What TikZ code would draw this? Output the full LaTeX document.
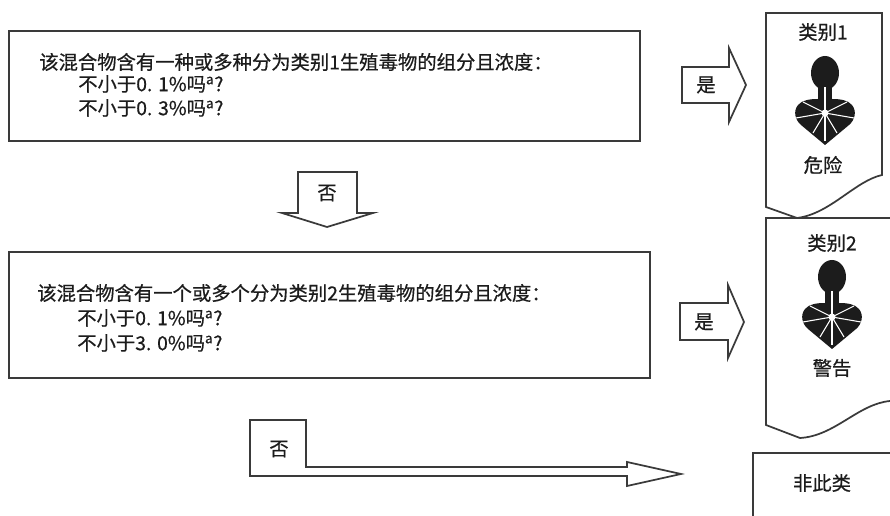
\documentclass[tikz,border=0pt]{standalone}
\usepackage{fontspec}
\newfontfamily\cjk[FakeBold=0.6]{Noto Sans CJK SC}
\definecolor{inkgray}{RGB}{58,58,58}
\definecolor{inkdark}{RGB}{28,28,28}

\begin{document}
\begin{tikzpicture}[x=0.75pt,y=0.75pt,yscale=-1,xscale=1,
  box/.style={draw=inkgray, line width=1.3pt, line join=miter},
  txt/.style={inner sep=0.75pt, text=inkdark, font=\cjk\fontsize{14.5}{17}\selectfont},
  hazard/.pic={
    \fill[inkdark] (0,-27) ellipse [x radius=14, y radius=17];
    \fill[inkdark] (-7,-16) rectangle (7,2);
    \fill[inkdark] (-7,-1) .. controls (-15,-1) and (-23,0) .. (-27,5) .. controls (-32,11) and (-30,20) .. (-24,25) -- (0,45) -- (24,25) .. controls (30,20) and (32,11) .. (27,5) .. controls (23,0) and (15,-1) .. (7,-1) -- cycle;
    \foreach \p in {(0,-13),(-22,2),(-29,18),(-12,33),(0,41),(12,33),(29,18),(22,2)}
      \draw[white, line width=0.8pt] (0,13) -- \p;
    \fill[white] (0,13) circle (3.5);
  }]
\useasboundingbox (0,0) rectangle (890,516);

%Shape: Rectangle [id:question1]
\draw [box] (9,31) -- (640,31) -- (640,141) -- (9,141) -- cycle ;
%Shape: Rectangle [id:question2]
\draw [box] (9,252) -- (650,252) -- (650,378) -- (9,378) -- cycle ;

%Shape: Block arrow [id:yes1]
\draw [box] (682,67) -- (729,67) -- (729,48) -- (746,85) -- (729,122) -- (729,103) -- (682,103) -- cycle ;
%Shape: Block arrow [id:yes2]
\draw [box] (680,303) -- (728,303) -- (728,285) -- (744,322) -- (728,358) -- (728,340) -- (680,340) -- cycle ;
%Shape: Block arrow [id:no1]
\draw [box] (298,172) -- (357,172) -- (357,213) -- (373,213) -- (327,227) -- (282,213) -- (298,213) -- cycle ;
%Shape: Block arrow [id:no2]
\draw [box] (250,420) -- (306,420) -- (306,467) -- (627,467) -- (627,462) -- (681,474) -- (627,486) -- (627,476) -- (250,476) -- cycle ;

%Shape: Document [id:cat1]
\draw [box] (766,13) -- (882,13) -- (882,175) .. controls (855,181) and (830,214) .. (797,218) -- (766,207) -- cycle ;
%Shape: Document [id:cat2]
\draw [box] (890,218) -- (766,218) -- (766,425) -- (800,438) .. controls (835,436) and (858,404) .. (890,401) ;
%Shape: Rectangle [id:none]
\draw [box] (890,453) -- (753,453) -- (753,516) ;

%Pictograms
\pic (icon1) [transform shape] at (825,100) {hazard};
\pic (icon2) [transform shape] at (832,304) {hazard};

% Text Node
\node [txt, anchor=west] (q1a) at (38,62) {该混合物含有一种或多种分为类别1生殖毒物的组分且浓度：};
% Text Node
\node [txt, anchor=west] (q1b) at (77,84) {不小于0. 1\%吗\textsuperscript{a}?};
% Text Node
\node [txt, anchor=west] (q1c) at (77,108) {不小于0. 3\%吗\textsuperscript{a}?};
% Text Node
\node [txt, anchor=west] (q2a) at (36,293) {该混合物含有一个或多个分为类别2生殖毒物的组分且浓度：};
% Text Node
\node [txt, anchor=west] (q2b) at (76,318) {不小于0. 1\%吗\textsuperscript{a}?};
% Text Node
\node [txt, anchor=west] (q2c) at (76,343) {不小于3. 0\%吗\textsuperscript{a}?};
% Text Node
\node [txt] (yes1) at (706,85) {是};
% Text Node
\node [txt] (yes2) at (704,322) {是};
% Text Node
\node [txt] (no1) at (327,193) {否};
% Text Node
\node [txt] (no2) at (279,449) {否};
% Text Node
\node [txt] (cat1) at (823,32) {类别1};
% Text Node
\node [txt] (cat1s) at (823,165) {危险};
% Text Node
\node [txt] (cat2) at (832,243) {类别2};
% Text Node
\node [txt] (cat2s) at (832,368) {警告};
% Text Node
\node [txt] (none) at (822,483) {非此类};

\end{tikzpicture}
\end{document}
